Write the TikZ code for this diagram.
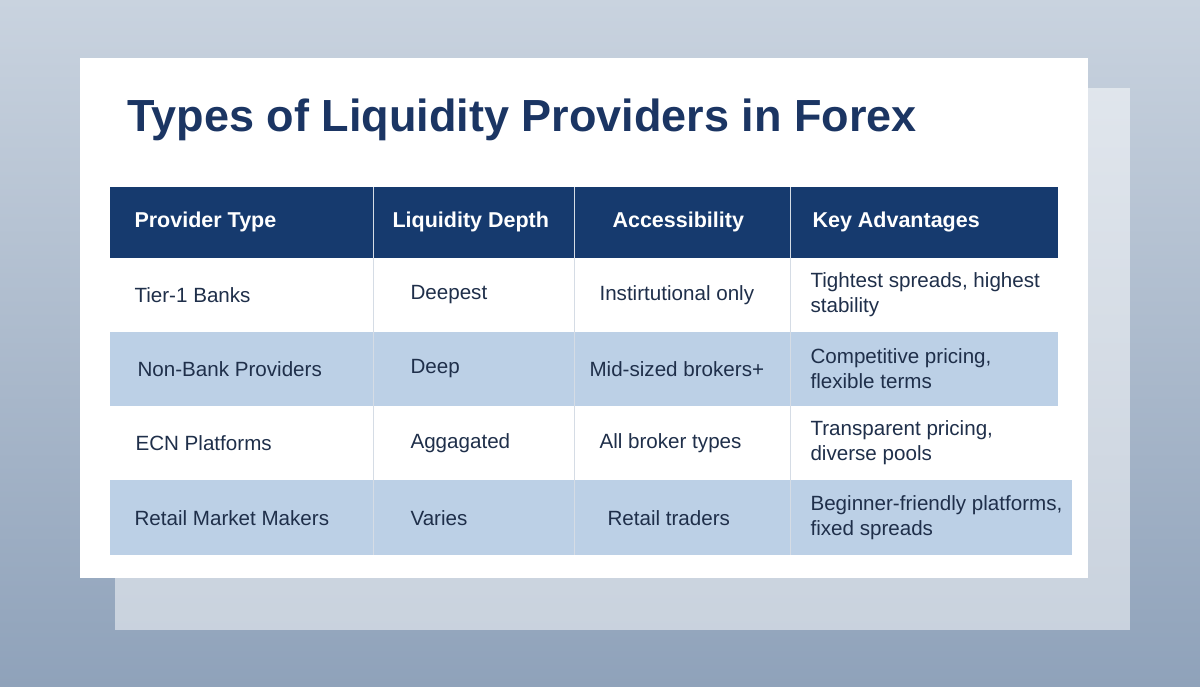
\documentclass[tikz,border=0pt]{standalone}
\usepackage{fontspec}
\setmainfont{Liberation Sans}
\definecolor{navy}{HTML}{163A6E}
\definecolor{titlec}{HTML}{1B3563}
\definecolor{rowb}{HTML}{BCD0E6}
\definecolor{bgtop}{HTML}{C9D3DF}
\definecolor{bgbot}{HTML}{8FA2BA}
\definecolor{txt}{HTML}{1F2F4A}
\definecolor{divc}{HTML}{D5DCE5}
\begin{document}
\begin{tikzpicture}[x=1pt,y=-1pt,
  cell/.style={anchor=west,text=txt,font=\fontsize{20.6}{25}\selectfont,align=left},
  hdr/.style={anchor=west,text=white,font=\bfseries\fontsize{21.5}{26}\selectfont}]
\useasboundingbox (0,0) rectangle (1200,686);
\shade[top color=bgtop,bottom color=bgbot] (0,0) rectangle (1200,686);
\fill[white,opacity=0.5] (115,88) rectangle (1130,630);
\fill[white] (80,58) rectangle (1088,578);
\node[anchor=west,text=titlec,font=\bfseries\fontsize{45}{52}\selectfont] (title) at (124,120) {Types of Liquidity Providers in Forex};
\fill[navy] (110,187) rectangle (1058,258);
\fill[rowb] (110,332) rectangle (1058,406);
\fill[rowb] (110,480) rectangle (1072,555);
\foreach \x in {373,574,790}{\draw[divc,line width=1pt] (\x,187) -- (\x,555);}
\node[hdr] (h1) at (131,222) {Provider Type};
\node[hdr] (h2) at (389,222) {Liquidity Depth};
\node[hdr] (h3) at (609,222) {Accessibility};
\node[hdr] (h4) at (809,222) {Key Advantages};
\node[cell] (a1) at (131,295) {Tier-1 Banks};
\node[cell] (b1) at (407,295) {Deepest};
\node[cell] (c1) at (596,295) {Instirtutional only};
\node[cell] (d1) at (807,295) {Tightest spreads, highest\\stability};
\node[cell] (a2) at (134,369) {Non-Bank Providers};
\node[cell] (b2) at (407,369) {Deep};
\node[cell] (c2) at (586,369) {Mid-sized brokers+};
\node[cell] (d2) at (807,369) {Competitive pricing,\\flexible terms};
\node[cell] (a3) at (132,443) {ECN Platforms};
\node[cell] (b3) at (407,443) {Aggagated};
\node[cell] (c3) at (596,443) {All broker types};
\node[cell] (d3) at (807,443) {Transparent pricing,\\diverse pools};
\node[cell] (a4) at (131,518) {Retail Market Makers};
\node[cell] (b4) at (407,518) {Varies};
\node[cell] (c4) at (604,518) {Retail traders};
\node[cell] (d4) at (807,518) {Beginner-friendly platforms,\\fixed spreads};
\end{tikzpicture}
\end{document}
